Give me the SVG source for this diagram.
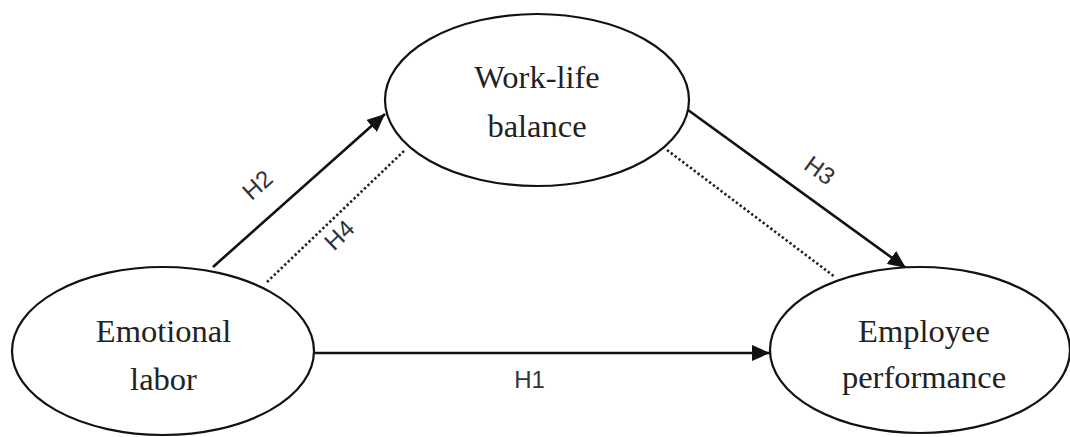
<svg xmlns="http://www.w3.org/2000/svg" width="1070" height="437" viewBox="0 0 1070 437">
<defs>
<marker id="arrL" viewBox="0 0 18 16" refX="18" refY="8" markerWidth="18" markerHeight="16" orient="auto" markerUnits="userSpaceOnUse">
<path d="M0,0 L18,8 L0,16 z" fill="#111"/>
</marker>
</defs>
<style>
.node ellipse{fill:#fff;stroke:#111;stroke-width:2.2}
.node text{font-family:"Liberation Serif","Times New Roman",serif;font-size:32.5px;fill:#222;text-anchor:middle}
.solid{stroke:#111;stroke-width:2.6;fill:none}
.dot{stroke:#222;stroke-width:2.6;stroke-dasharray:2.4 2.4;fill:none}
.lbl{font-family:"Liberation Sans",Arial,sans-serif;font-size:24px;fill:#333;text-anchor:middle}
</style>
<rect width="1070" height="437" fill="#fff"/>
<g id="connectors">
<line class="solid" x1="315" y1="353" x2="770" y2="353" marker-end="url(#arrL)"/>
<line class="solid" x1="213" y1="267" x2="385" y2="114" marker-end="url(#arrL)"/>
<line class="solid" x1="688" y1="110" x2="906" y2="268" marker-end="url(#arrL)"/>
<line class="dot" x1="267" y1="282" x2="405" y2="150"/>
<line class="dot" x1="667" y1="150" x2="835" y2="277"/>
<text class="lbl" x="529.5" y="388">H1</text>
<text class="lbl" transform="translate(263,191) rotate(-42)">H2</text>
<text class="lbl" transform="translate(345,241) rotate(-44)">H4</text>
<text class="lbl" transform="translate(815,177) rotate(36)">H3</text>
</g>
<g id="work-life-balance" class="node">
<ellipse cx="537" cy="100" rx="152" ry="86"/>
<text x="537" y="88">Work-life</text>
<text x="537" y="137">balance</text>
</g>
<g id="emotional-labor" class="node">
<ellipse cx="163" cy="351" rx="151" ry="84"/>
<text x="163.5" y="342">Emotional</text>
<text x="163.5" y="390">labor</text>
</g>
<g id="employee-performance" class="node">
<ellipse cx="920" cy="350" rx="150" ry="83"/>
<text x="924" y="342">Employee</text>
<text x="924" y="388">performance</text>
</g>
</svg>
